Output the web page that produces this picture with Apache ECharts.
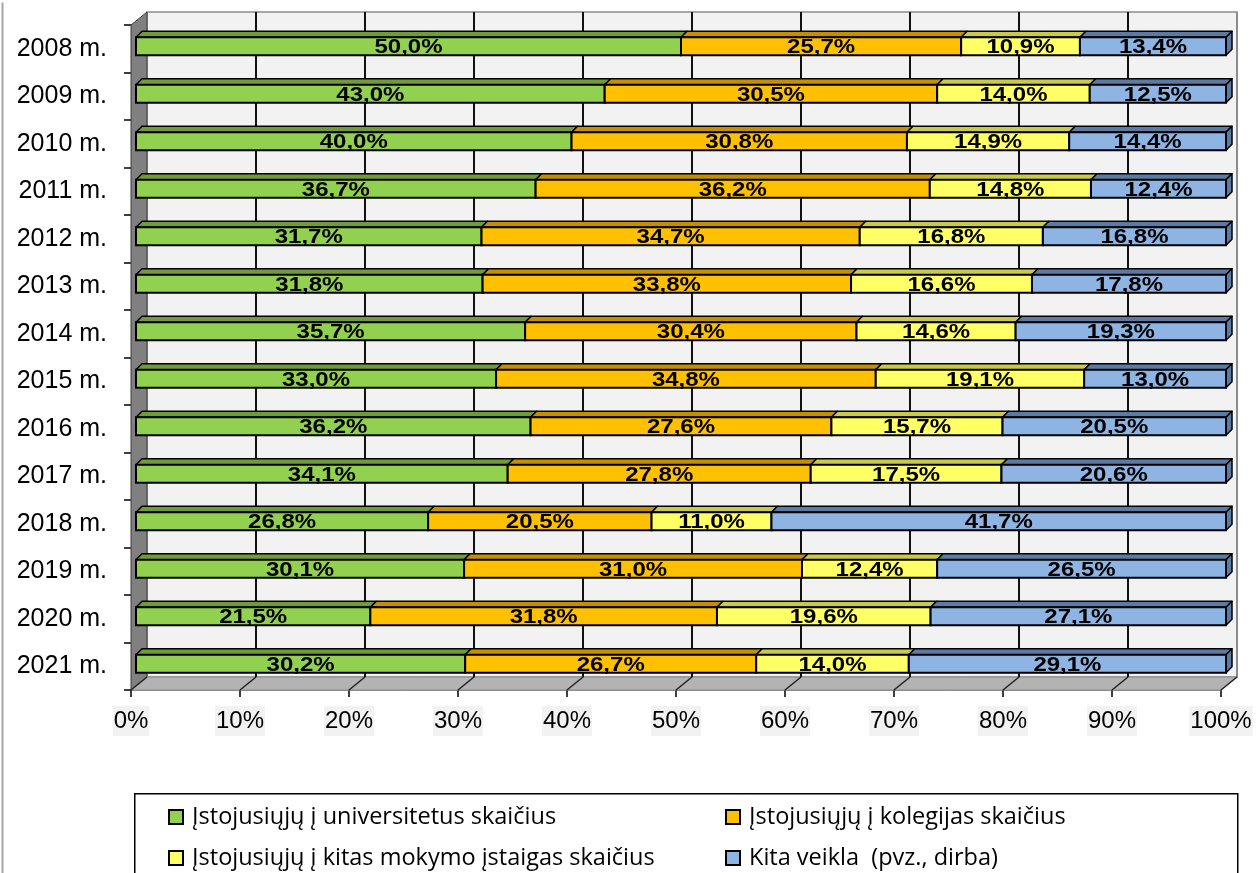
<!DOCTYPE html>
<html>
<head>
<meta charset="utf-8">
<script src="https://cdn.jsdelivr.net/npm/echarts@6/dist/echarts.min.js"></script>
<style>
  html, body { margin: 0; padding: 0; background: #fff; }
  #chart { width: 1256px; height: 873px; }
</style>
</head>
<body>
<div id="chart"></div>
<script>
// metai
var years = ['2008 m.', '2009 m.', '2010 m.', '2011 m.', '2012 m.', '2013 m.', '2014 m.',
  '2015 m.', '2016 m.', '2017 m.', '2018 m.', '2019 m.', '2020 m.', '2021 m.'];
var universitetai = [50.0, 43.0, 40.0, 36.7, 31.7, 31.8, 35.7, 33.0, 36.2, 34.1, 26.8, 30.1, 21.5, 30.2];
var kolegijos = [25.7, 30.5, 30.8, 36.2, 34.7, 33.8, 30.4, 34.8, 27.6, 27.8, 20.5, 31.0, 31.8, 26.7];
var kitosIstaigos = [10.9, 14.0, 14.9, 14.8, 16.8, 16.6, 14.6, 19.1, 15.7, 17.5, 11.0, 12.4, 19.6, 14.0];
var kitaVeikla = [13.4, 12.5, 14.4, 12.4, 16.8, 17.8, 19.3, 13.0, 20.5, 20.6, 41.7, 26.5, 27.1, 29.1];
var xTicks = [0, 10, 20, 30, 40, 50, 60, 70, 80, 90, 100];

var seriesNames = [
  'Įstojusiųjų į universitetus skaičius',
  'Įstojusiųjų į kolegijas skaičius',
  'Įstojusiųjų į kitas mokymo įstaigas skaičius',
  'Kita veikla  (pvz., dirba)'
];
var seriesValues = [universitetai, kolegijos, kitosIstaigos, kitaVeikla];
var frontColors = ['#92d050', '#ffc000', '#ffff66', '#8db4e2'];
var topColors = ['#6f9b38', '#c48f00', '#c9c94a', '#5b7ba5'];

// gylis (3D)
var DX = 16, DY = -13;      // sienos gylis
var BX = 5, BY = -2.5;      // juostos priekis
var BDX = 6, BDY = -6;      // juostos gylis

// 100% normalizavimas
var totals = years.map(function (y, i) {
  return seriesValues.reduce(function (s, arr) { return s + arr[i]; }, 0);
});

function buildData(k) {
  return years.map(function (y, i) {
    var start = 0;
    for (var j = 0; j < k; j++) start += seriesValues[j][i];
    var end = start + seriesValues[k][i];
    return [i, start / totals[i] * 100, end / totals[i] * 100, seriesValues[k][i]];
  });
}

function fmt(v) {
  return v.toFixed(1).replace('.', ',') + '%';
}

function renderFrame(params, api) {
  var cs = params.coordSys;
  var x = cs.x, y = cs.y, w = cs.width, h = cs.height;
  var children = [];
  children.push({
    type: 'polygon',
    shape: { points: [[x + DX, y + DY], [x + w + DX, y + DY], [x + w + DX, y + h + DY], [x + DX, y + h + DY]] },
    style: { fill: '#f2f2f2', stroke: '#8c8c8c', lineWidth: 1.5 }
  });
  children.push({
    type: 'polygon',
    shape: { points: [[x, y], [x + DX, y + DY], [x + DX, y + h + DY], [x, y + h]] },
    style: { fill: '#808080', stroke: '#3a3a3a', lineWidth: 1 }
  });
  children.push({
    type: 'polygon',
    shape: { points: [[x, y + h], [x + DX, y + h + DY], [x + w + DX, y + h + DY], [x + w, y + h]] },
    style: { fill: '#b3b3b3', stroke: '#8c8c8c', lineWidth: 1 }
  });
  xTicks.forEach(function (t) {
    var px = api.coord([t, 0])[0];
    if (t > 0) {
      children.push({
        type: 'line',
        shape: { x1: px + DX, y1: y + DY, x2: px + DX, y2: y + h + DY },
        style: { stroke: t === 100 ? '#8c8c8c' : '#111', lineWidth: 2 }
      });
    }
    children.push({
      type: 'line',
      shape: { x1: px + DX, y1: y + h + DY, x2: px, y2: y + h },
      style: { stroke: '#222', lineWidth: 1.5 }
    });
  });
  return { type: 'group', children: children };
}

function makeRender(k) {
  return function (params, api) {
    var p0 = api.coord([api.value(1), api.value(0)]);
    var p1 = api.coord([api.value(2), api.value(0)]);
    var band = api.size([0, 1])[1];
    var bh = band * 0.38;
    var cy = p0[1] + BY;
    var x0 = p0[0] + BX, x1 = p1[0] + BX;
    var top = cy - bh / 2, bot = cy + bh / 2;
    var children = [
      {
        type: 'polygon',
        shape: { points: [[x0, top], [x0 + BDX, top + BDY], [x1 + BDX, top + BDY], [x1, top]] },
        style: { fill: topColors[k], stroke: '#000', lineWidth: 1.5, lineJoin: 'round' }
      }
    ];
    if (k === seriesValues.length - 1) {
      children.push({
        type: 'polygon',
        shape: { points: [[x1, top], [x1 + BDX, top + BDY], [x1 + BDX, bot + BDY], [x1, bot]] },
        style: { fill: topColors[k], stroke: '#000', lineWidth: 1.5, lineJoin: 'round' }
      });
    }
    children.push({
      type: 'rect',
      shape: { x: x0, y: top, width: x1 - x0, height: bh },
      style: { fill: frontColors[k], stroke: '#000', lineWidth: 2 }
    });
    children.push({
      type: 'text',
      x: (x0 + x1) / 2,
      y: cy + 1.5,
      scaleX: 1.2,
      style: {
        x: 0, y: 0,
        text: fmt(api.value(3)),
        align: 'center', verticalAlign: 'middle',
        font: 'bold 20px "Liberation Sans", Arial, sans-serif',
        fill: '#000'
      }
    });
    return { type: 'group', children: children };
  };
}

var chart = echarts.init(document.getElementById('chart'));

var series = [{
  type: 'custom',
  name: 'frame',
  silent: true,
  z: 1,
  renderItem: renderFrame,
  data: [[0, 0]],
  encode: { x: 0, y: 1 }
}];
seriesNames.forEach(function (name, k) {
  series.push({
    type: 'custom',
    name: name,
    z: 3,
    itemStyle: { color: frontColors[k] },
    renderItem: makeRender(k),
    data: buildData(k),
    encode: { x: [1, 2], y: 0 }
  });
});

var legendText = {
  fontFamily: '"Open Sans", Lato, sans-serif',
  fontSize: 23.5,
  color: '#000',
  padding: [0, 0, 0, 4]
};

var option = {
  backgroundColor: '#fff',
  animation: false,
  grid: { left: 131, right: 35, top: 25, bottom: 183 },
  xAxis: {
    type: 'value',
    min: 0,
    max: 100,
    interval: 10,
    axisLine: { show: true, lineStyle: { color: '#8c8c8c', width: 1 } },
    axisTick: { show: true, length: 7, lineStyle: { color: '#000', width: 1.5 } },
    splitLine: { show: false },
    axisLabel: {
      formatter: '{value}%',
      fontFamily: '"Liberation Sans", Arial, sans-serif',
      fontSize: 24,
      color: '#000',
      margin: 16,
      backgroundColor: '#f2f2f2',
      padding: [3, 1, 3, 1]
    }
  },
  yAxis: {
    type: 'category',
    inverse: true,
    data: years,
    axisLine: { show: true, lineStyle: { color: '#000', width: 1 } },
    axisTick: { show: true, length: 7, lineStyle: { color: '#000', width: 1.5 } },
    axisLabel: {
      fontFamily: '"Liberation Sans", Arial, sans-serif',
      fontSize: 25,
      color: '#000',
      margin: 24
    }
  },
  legend: [{
    orient: 'vertical',
    left: 163,
    top: 800,
    height: 90,
    itemWidth: 14,
    itemHeight: 14,
    itemGap: 17,
    icon: 'rect',
    itemStyle: { borderColor: '#000', borderWidth: 2 },
    textStyle: legendText,
    selectedMode: false,
    data: [seriesNames[0], seriesNames[2]]
  }, {
    orient: 'vertical',
    left: 720,
    top: 800,
    height: 90,
    itemWidth: 14,
    itemHeight: 14,
    itemGap: 17,
    icon: 'rect',
    itemStyle: { borderColor: '#000', borderWidth: 2 },
    textStyle: legendText,
    selectedMode: false,
    data: [seriesNames[1], seriesNames[3]]
  }],
  graphic: [{
    type: 'rect',
    left: 134,
    top: 793,
    z: -1,
    shape: { width: 1103, height: 100 },
    style: { fill: '#fff', stroke: '#000', lineWidth: 1.5 }
  }, {
    type: 'line',
    left: 0,
    top: 0,
    shape: { x1: 1, y1: 0, x2: 1, y2: 873 },
    style: { stroke: '#a6a6a6', lineWidth: 2 }
  }],
  series: series
};

chart.setOption(option);
</script>
</body>
</html>
